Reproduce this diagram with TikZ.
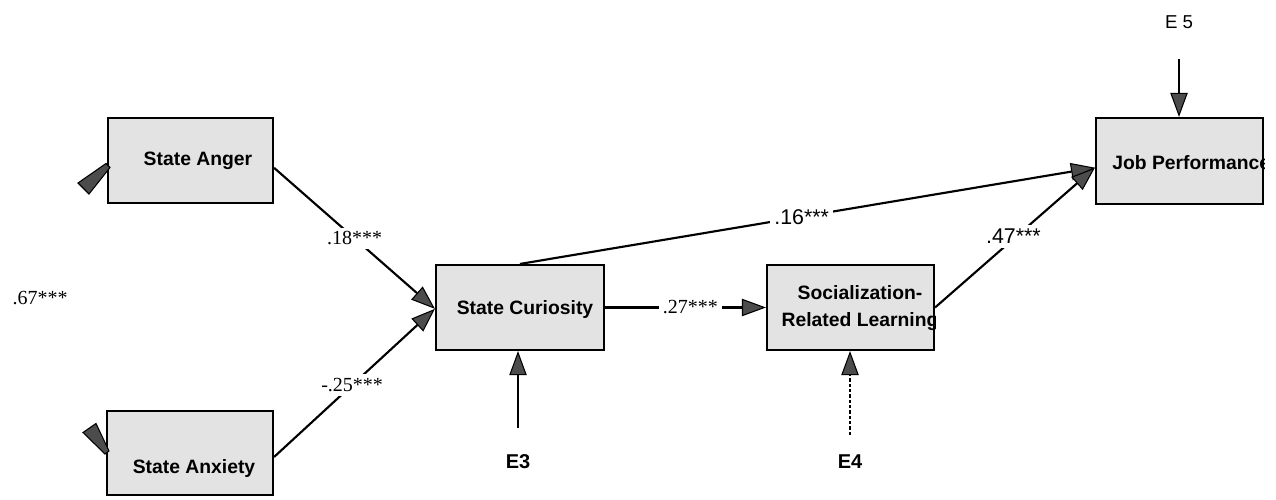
\documentclass[tikz,border=0pt]{standalone}
\usepackage{fontspec}
\setmainfont{Liberation Serif}
\setsansfont{Liberation Sans}
\usetikzlibrary{arrows.meta}

\tikzset{
  box/.style={draw, line width=1.6pt, fill=gray!22, inner sep=0pt},
  boxtext/.style={font=\sffamily\bfseries\fontsize{14.5}{17}\selectfont, align=center, inner sep=0pt},
  link/.style={line width=1.6pt, -{Triangle[length=18pt,width=13pt,line width=0.8pt,fill=black!70]}},
  coef/.style={font=\fontsize{15}{17}\selectfont, fill=white, inner sep=3pt},
  coefsans/.style={font=\sffamily\fontsize{16}{18}\selectfont, fill=white, inner sep=3pt},
  errlabel/.style={font=\sffamily\bfseries\fontsize{15}{17}\selectfont, inner sep=3pt},
  wedge/.style={fill=black!70, draw=black, line width=0.8pt},
}

\begin{document}
\begin{tikzpicture}[x=0.75pt, y=-0.75pt]
  \useasboundingbox[fill=white] (0,0) rectangle (1276,499);

  % latent boxes
  \node[box, minimum width=123.75pt, minimum height=63.75pt] (anger) at (190.5,160.5) {};
  \node[box, minimum width=124.5pt,  minimum height=63pt]    (anxiety) at (190,453) {};
  \node[box, minimum width=126pt,    minimum height=63.75pt] (cur) at (520,307.5) {};
  \node[box, minimum width=125.25pt, minimum height=63.75pt] (soc) at (850.5,307.5) {};
  \node[box, minimum width=125.25pt, minimum height=64.5pt]  (job) at (1179.5,161) {};

  % box captions
  \node[boxtext] (angertxt) at (198,161) {State Anger};
  \node[boxtext] (anxtxt) at (194,468) {State Anxiety};
  \node[boxtext] (curtxt) at (525,309) {State Curiosity};
  \begin{scope}
    \clip (soc.south west) rectangle (soc.north east);
    \node[boxtext, font=\sffamily\bfseries\fontsize{14.5}{20}\selectfont] (soctxt) at (860,308) {Socialization-\\Related Learning};
  \end{scope}
  \begin{scope}
    \clip (job.south west) rectangle (job.north east);
    \node[boxtext, anchor=west] (jobtxt) at (1112,163) {Job Performance};
  \end{scope}

  % residual terms
  \node[errlabel] (e3) at (518,462) {E3};
  \node[errlabel] (e4) at (850,462) {E4};
  \node[font=\sffamily\fontsize{14}{16}\selectfont, inner sep=3pt] (e5) at (1179,22) {E 5};

  % free correlation between the exogenous states
  \node[coef] (r67) at (40,298) {.67***};
  \fill[wedge] (78,183) -- (89,194) -- (110,167.5) -- (106,163.5) -- cycle;
  \fill[wedge] (96,423.5) -- (83,432.5) -- (105,454) -- (109,451) -- cycle;

  % structural paths
  \coordinate (curin) at ([yshift=-1pt]cur.west);
  \coordinate (jobin) at ([yshift=-5pt]job.west);
  \draw[link] ([yshift=-5.5pt]anger.east) -- (curin)
    node[coef, midway] {.18***};
  \draw[link] ([yshift=-3pt]anxiety.east) -- (curin)
    node[coef, pos=0.485] {-.25***};
  \draw[link] (cur.north) -- (jobin)
    node[coefsans, pos=0.49] {.16***};
  \draw[link] (cur.east) -- (soc.west)
    node[coef, pos=0.53] {.27***};
  \draw[link] (soc.east) -- (jobin)
    node[coefsans, pos=0.49, yshift=2pt] {.47***};

  % disturbance arrows
  \draw[link, shorten <=17pt] (e3) -- (e3 |- cur.south);
  \draw[link, shorten <=12pt, dash pattern=on 2.5pt off 1.5pt] (e4) -- (e4 |- soc.south);
  \draw[link, shorten <=20pt] (e5) -- (e5 |- job.north);
\end{tikzpicture}
\end{document}
